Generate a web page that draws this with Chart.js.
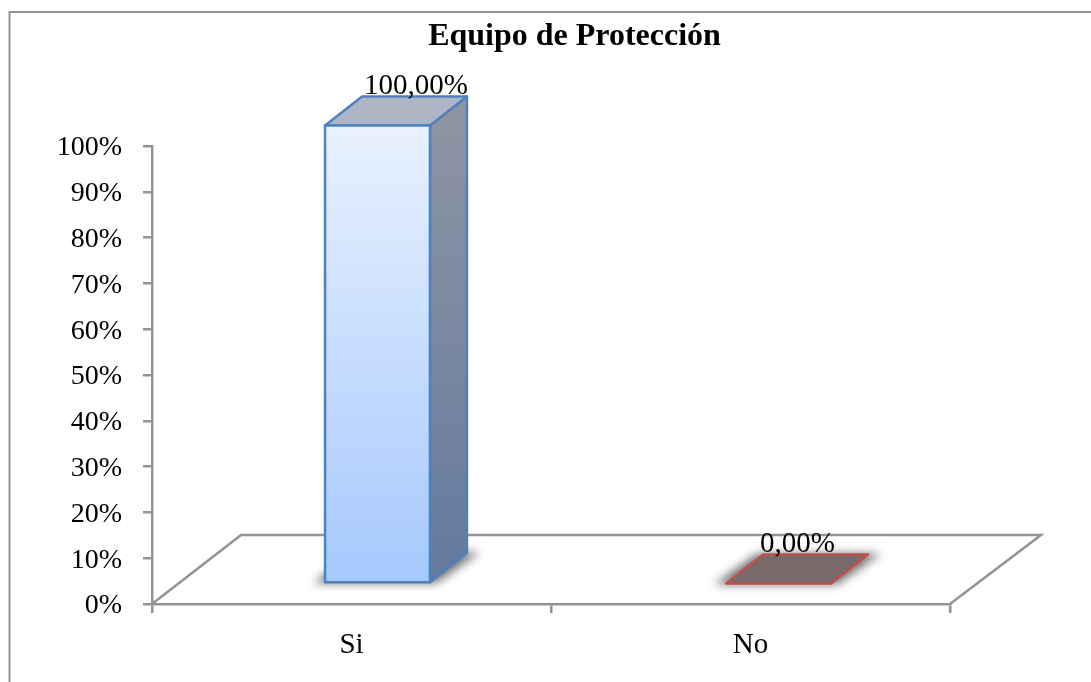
<!DOCTYPE html>
<html>
<head>
<meta charset="utf-8">
<title>Equipo de Protección</title>
<script src="https://cdn.jsdelivr.net/npm/chart.js@4"></script>
<style>
  html, body { margin: 0; padding: 0; background: #fff; }
  canvas { display: block; }
</style>
</head>
<body>
<canvas id="chart" width="1091" height="682"></canvas>
<script>
const categories = ["Si", "No"];
const porcentajes = [100, 0];
const tituloGrafico = "Equipo de Protección";

const FONT = '"Liberation Serif", "Times New Roman", serif';
const GRIS = "#939393";
const GROSOR = 2.5;

// 3d look: floor depth, bar offset on the floor, bar depth
const PISO = { dx: 90, dy: -69 };
const FRENTE = { dx: 26, dy: -20.5 };
const FONDO = { dx: 37, dy: -29 };
const AJUSTE_BARRA = [0, 2];
const AJUSTE_ETIQUETA = [39, 34];

const CARA = [
  { borde: "#4f81bd", arriba: "#e8f1fe", abajo: "#a5c8fd", tapa: "#adb5c5", ladoArriba: "#8f96a3", ladoAbajo: "#64799f" },
  { borde: "#c0504d", arriba: "#786a6a", abajo: "#786a6a", tapa: "#786a6a", ladoArriba: "#786a6a", ladoAbajo: "#786a6a" },
];

function poligono(ctx, puntos) {
  ctx.beginPath();
  puntos.forEach((p, i) => (i ? ctx.lineTo(p[0], p[1]) : ctx.moveTo(p[0], p[1])));
  ctx.closePath();
}

const marco = {
  id: "marco",
  beforeDraw(chart) {
    const { ctx, width, height } = chart;
    ctx.save();
    ctx.strokeStyle = GRIS;
    ctx.lineWidth = 2;
    ctx.beginPath();
    ctx.moveTo(9.5, height);
    ctx.lineTo(9.5, 12);
    ctx.lineTo(width, 12);
    ctx.stroke();

    // title sits centred on the frame, not on the plot
    ctx.font = "bold 32px " + FONT;
    ctx.fillStyle = "#000";
    ctx.textAlign = "center";
    ctx.textBaseline = "alphabetic";
    ctx.fillText(tituloGrafico, 574.5, 45);
    ctx.restore();
  },
};

// y labels sit a little under the tick line, which the scale option can't do
const etiquetasY = {
  id: "etiquetasY",
  afterDraw(chart) {
    const { ctx, scales } = chart;
    const y = scales.y;
    ctx.save();
    ctx.font = "28px " + FONT;
    ctx.fillStyle = "#000";
    ctx.textAlign = "right";
    ctx.textBaseline = "middle";
    y.ticks.forEach((t, i) => {
      ctx.fillText(t.value + "%", y.left + y.width - 30, y.getPixelForTick(i) + 2);
    });
    ctx.restore();
  },
};

const barras3d = {
  id: "barras3d",
  beforeDatasetsDraw(chart) {
    const { ctx, chartArea: a } = chart;
    ctx.save();

    // floor
    ctx.strokeStyle = GRIS;
    ctx.lineWidth = GROSOR;
    ctx.beginPath();
    ctx.moveTo(a.left, a.bottom);
    ctx.lineTo(a.left + PISO.dx - 1, a.bottom + PISO.dy);
    ctx.lineTo(a.right + PISO.dx + 1, a.bottom + PISO.dy);
    ctx.lineTo(a.right, a.bottom);
    ctx.stroke();

    chart.getDatasetMeta(0).data.forEach((el, i) => {
      const c = CARA[i];
      const l = el.x - el.width / 2 + FRENTE.dx + AJUSTE_BARRA[i];
      const r = el.x + el.width / 2 + FRENTE.dx + AJUSTE_BARRA[i];
      const t = el.y + FRENTE.dy;
      const b = el.base + FRENTE.dy;

      // soft shadow under the bar base
      ctx.save();
      ctx.filter = "blur(5px)";
      ctx.fillStyle = "rgba(0,0,0,0.55)";
      poligono(ctx, [[l - 12, b + 1], [r + 6, b + 1], [r + FONDO.dx + 13, b + FONDO.dy - 1], [l + FONDO.dx - 6, b + FONDO.dy - 1]]);
      ctx.fill();
      ctx.restore();

      ctx.strokeStyle = c.borde;
      ctx.lineWidth = GROSOR;
      ctx.lineJoin = "round";

      // side face
      if (b - t > 0) {
        const g = ctx.createLinearGradient(0, t + FONDO.dy, 0, b);
        g.addColorStop(0, c.ladoArriba);
        g.addColorStop(1, c.ladoAbajo);
        ctx.fillStyle = g;
        poligono(ctx, [[r, t], [r + FONDO.dx, t + FONDO.dy], [r + FONDO.dx, b + FONDO.dy], [r, b]]);
        ctx.fill();
        ctx.stroke();
      }

      // top face
      ctx.fillStyle = c.tapa;
      poligono(ctx, [[l, t], [l + FONDO.dx, t + FONDO.dy], [r + FONDO.dx, t + FONDO.dy], [r, t]]);
      ctx.fill();
      ctx.stroke();
    });
    ctx.restore();

    // front faces are filled by the bar elements, moved onto the floor
    ctx.save();
    ctx.translate(FRENTE.dx, FRENTE.dy);
  },
  afterDatasetsDraw(chart) {
    const { ctx } = chart;
    ctx.restore();

    ctx.save();
    chart.getDatasetMeta(0).data.forEach((el, i) => {
      const l = el.x - el.width / 2 + FRENTE.dx + AJUSTE_BARRA[i];
      const t = el.y + FRENTE.dy;
      const b = el.base + FRENTE.dy;

      // outline of the front face, same stroke as the other faces
      if (b - t > 0) {
        ctx.strokeStyle = CARA[i].borde;
        ctx.lineWidth = GROSOR;
        ctx.lineJoin = "round";
        ctx.strokeRect(l, t, el.width, b - t);
      }

      // value labels
      ctx.font = "29px " + FONT;
      ctx.fillStyle = "#000";
      ctx.textAlign = "left";
      ctx.textBaseline = "alphabetic";
      const texto = porcentajes[i].toFixed(2).replace(".", ",") + "%";
      ctx.fillText(texto, l + AJUSTE_ETIQUETA[i], t - 32);
    });
    ctx.restore();
  },
};

new Chart(document.getElementById("chart"), {
  type: "bar",
  data: {
    labels: categories,
    datasets: [{
      data: porcentajes,
      barPercentage: 0.263,
      categoryPercentage: 1,
      borderWidth: 0,
      backgroundColor: (c) => {
        const a = c.chart.chartArea;
        if (!a) return CARA[c.dataIndex].abajo;
        const g = c.chart.ctx.createLinearGradient(0, a.top, 0, a.bottom);
        g.addColorStop(0, CARA[c.dataIndex].arriba);
        g.addColorStop(1, CARA[c.dataIndex].abajo);
        return g;
      },
    }],
  },
  plugins: [marco, etiquetasY, barras3d],
  options: {
    responsive: false,
    animation: false,
    layout: { padding: { top: 146, right: 141 } },
    plugins: {
      legend: { display: false },
      tooltip: { enabled: false },
      title: { display: false },
    },
    scales: {
      x: {
        afterFit: (s) => { s.height = 78; },
        border: { color: GRIS, width: GROSOR },
        grid: { drawOnChartArea: false, color: GRIS, lineWidth: GROSOR, tickLength: 9 },
        ticks: { color: "#000", font: { family: FONT, size: 29 }, padding: 15, maxRotation: 0 },
      },
      y: {
        min: 0,
        max: 100,
        afterFit: (s) => { s.width = 152; },
        border: { color: GRIS, width: GROSOR },
        grid: { drawOnChartArea: false, color: GRIS, lineWidth: GROSOR, tickLength: 9 },
        ticks: { stepSize: 10, display: false },
      },
    },
  },
});
</script>
</body>
</html>
